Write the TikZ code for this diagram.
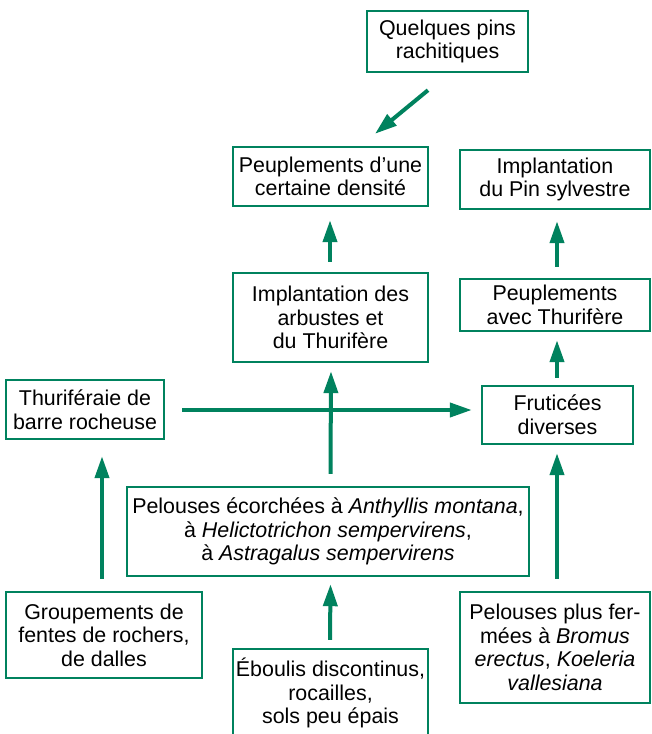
\documentclass[tikz,border=0pt]{standalone}
\usepackage{fontspec}
\setmainfont{Liberation Sans}
\usetikzlibrary{arrows.meta,calc}
\definecolor{grn}{RGB}{0,130,94}
\begin{document}
\begin{tikzpicture}[x=1pt,y=-1pt,
  box/.style={draw=grn, line width=2.4pt, align=center, inner sep=0pt,
    font=\fontsize{21.4}{23.6}\selectfont},
  arr/.style={draw=grn, line width=4pt, -{Triangle[length=22pt,width=14pt]}}]
\clip (0,0) rectangle (651,734);
\fill[white] (0,0) rectangle (651,734);

\node[box, minimum width=161pt, minimum height=61pt] (q) at (447.5,41.5) {Quelques pins\\rachitiques};
\node[box, minimum width=195pt, minimum height=59pt] (dens) at (330.5,176.5) {Peuplements d’une\\certaine densité};
\node[box, minimum width=190pt, minimum height=59pt] (pin) at (555,179.5) {Implantation\\du Pin sylvestre};
\node[box, minimum width=195pt, minimum height=89pt] (arb) at (330.5,317.5) {Implantation des\\arbustes et\\du Thurifère};
\node[box, minimum width=190pt, minimum height=52pt] (pthu) at (555,305) {Peuplements\\avec Thurifère};
\node[box, minimum width=158pt, minimum height=59pt] (thu) at (85,409.5) {Thuriféraie de\\barre rocheuse};
\node[box, minimum width=151pt, minimum height=58pt] (fru) at (557.5,415) {Fruticées\\diverses};
\node[box, minimum width=402pt, minimum height=89pt] (eco) at (328,531.5) {Pelouses écorchées à \textit{Anthyllis montana},\\à \textit{Helictotrichon sempervirens},\\à \textit{Astragalus sempervirens}};
\node[box, minimum width=196pt, minimum height=86pt] (grp) at (104,635) {Groupements de\\fentes de rochers,\\de dalles};
\node[box, minimum width=195pt, minimum height=88pt] (ebo) at (330.5,693) {Éboulis discontinus,\\rocailles,\\sols peu épais};
\node[box, minimum width=190pt, minimum height=111pt] (fer) at (555,647.5) {Pelouses plus fer-\\mées à \textit{Bromus}\\\textit{erectus}, \textit{Koeleria}\\\textit{vallesiana}};

% connectors
\draw[arr] ($(q.south)+(-19.5,17)$) -- ($(dens.north)+(44.5,-12)$);
\draw[arr] ($(arb.north)+(-0.5,-10)$) -- ($(dens.south)+(-0.5,13)$);
\draw[arr] ($(pthu.north)+(2,-11)$) -- ($(pin.south)+(2,11)$);
\draw[arr] ($(fru.north)+(-0.5,-7)$) -- ($(pthu.south)+(2,8)$);
\draw[arr] ($(thu.east)+(17,0.5)$) -- ($(fru.west)+(-9,-5)$);
\draw[arr] ($(eco.north)+(2.5,-12)$) -- ($(arb.south)+(0.5,8)$);
\draw[arr] ($(grp.north)+(-2,-12)$) -- ($(thu.south)+(17,16)$);
\draw[arr] ($(fer.north)+(2,-12)$) -- ($(fru.south)+(-0.5,8)$);
\draw[arr] ($(ebo.north)+(-0.5,-8)$) -- ($(eco.south)+(2.5,7)$);
\end{tikzpicture}
\end{document}
